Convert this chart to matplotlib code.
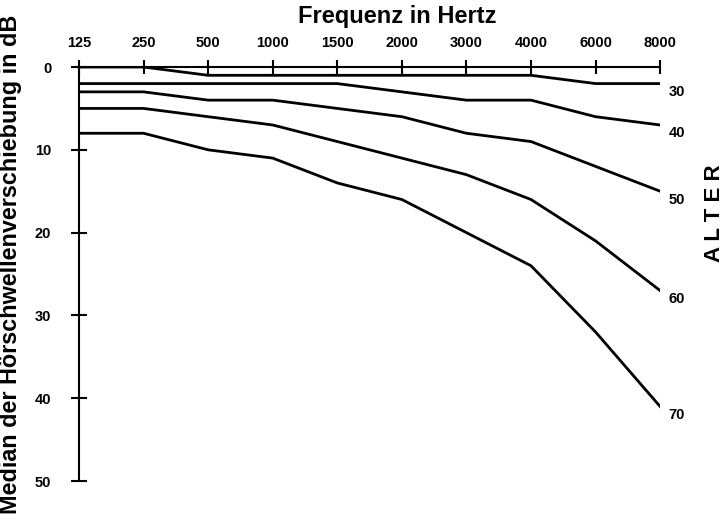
import matplotlib.pyplot as plt

plt.rcParams['font.family'] = ['Liberation Sans', 'DejaVu Sans']

frequenzen = ["125", "250", "500", "1000", "1500", "2000", "3000", "4000", "6000", "8000"]
alter = ["30", "40", "50", "60", "70"]
verschiebung = [
    [0, 0, 1, 1, 1, 1, 1, 1, 2, 2],
    [2, 2, 2, 2, 2, 3, 4, 4, 6, 7],
    [3, 3, 4, 4, 5, 6, 8, 9, 12, 15],
    [5, 5, 6, 7, 9, 11, 13, 16, 21, 27],
    [8, 8, 10, 11, 14, 16, 20, 24, 32, 41],
]
y_ticks = [0, 10, 20, 30, 40, 50]

fig = plt.figure(figsize=(7.27, 5.22), dpi=100)
ax = fig.add_axes([0.1087, 0.0785, 0.908 - 0.1087, 0.8716 - 0.0785])

x = list(range(len(frequenzen)))
for label, werte in zip(alter, verschiebung):
    ax.plot(x, werte, color="black", lw=2, solid_joinstyle="miter")
    ax.annotate(label, (x[-1], werte[-1]), xytext=(6, -1), textcoords="offset points",
                fontsize=10.5, fontweight="bold", va="top", ha="left")

ax.set_xlim(0, len(frequenzen) - 1)
ax.set_ylim(50, 0)
ax.xaxis.tick_top()
ax.set_xticks(x)
ax.set_xticklabels(frequenzen, fontsize=10.5, fontweight="bold")
ax.set_yticks(y_ticks)
ax.set_yticklabels([str(v) for v in y_ticks], fontsize=10.5, fontweight="bold")
ax.tick_params(axis="x", direction="inout", length=10, width=1.5, pad=7, color="black")
ax.tick_params(axis="y", direction="inout", length=12, width=1.5, pad=14, color="black")

for s in ["right", "bottom"]:
    ax.spines[s].set_visible(False)
for s in ["top", "left"]:
    ax.spines[s].set_linewidth(1.5)

fig.text(397 / 727, 1 - 17 / 522, "Frequenz in Hertz", fontsize=17, fontweight="bold",
         ha="center", va="center")
fig.text(11 / 727, 1 - 264 / 522, "Median der Hörschwellenverschiebung in dB", rotation=90,
         fontsize=16.8, fontweight="bold", ha="center", va="center")
fig.text(715 / 727, 1 - 213 / 522, "A L T E R", rotation=90, fontsize=16, fontweight="bold",
         ha="center", va="center")

fig.savefig("out.png", dpi=100)
plt.close(fig)
